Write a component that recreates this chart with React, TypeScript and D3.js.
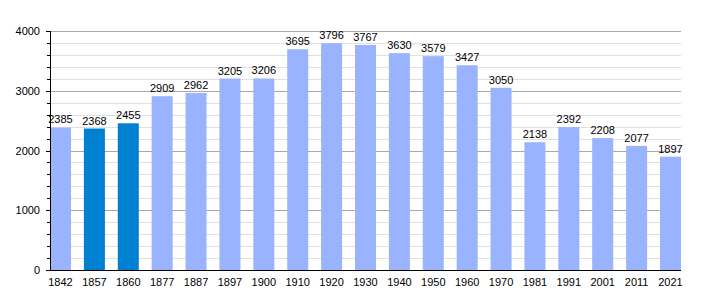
import React from "react";
import * as d3 from "d3";

const years = ["1842","1857","1860","1877","1887","1897","1900","1910","1920","1930","1940","1950","1960","1970","1981","1991","2001","2011","2021"];
const population = [2385,2368,2455,2909,2962,3205,3206,3695,3796,3767,3630,3579,3427,3050,2138,2392,2208,2077,1897];
const highlighted = ["1857","1860"];
const yTicks = [0,1000,2000,3000,4000];

const W = 710, H = 300;
const left = 50, right = 681, top = 31, bottom = 270;

export default function App() {
  const x = d3.scaleBand<string>().domain(years).range([left, right]).paddingInner(0.38).paddingOuter(0).align(0);
  const y = d3.scaleLinear().domain([0, 4000]).range([bottom, top]);
  const minor = d3.range(200, 4001, 200).filter(v => v % 1000 !== 0);
  const font = "'Liberation Sans', Arial, sans-serif";
  return (
    <svg width={W} height={H} style={{ position: "absolute", left: 0, top: 0 }} fontFamily={font}>
      <rect width={W} height={H} fill="#fff" />
      {minor.map(v => (
        <line key={"m" + v} x1={left} x2={right} y1={Math.round(y(v)) + 0.5} y2={Math.round(y(v)) + 0.5} stroke="#e0e0e0" />
      ))}
      {yTicks.filter(v => v > 0).map(v => (
        <line key={"g" + v} x1={left} x2={right} y1={Math.round(y(v)) + 0.5} y2={Math.round(y(v)) + 0.5} stroke="#a8a8a8" />
      ))}
      {years.map((yr, i) => (
        <rect key={yr} x={x(yr)} y={y(population[i])} width={x.bandwidth()} height={bottom - y(population[i])}
          fill={highlighted.includes(yr) ? "#0080d0" : "#99b3ff"} />
      ))}
      {years.map((yr, i) => (
        <text key={"v" + yr} x={(x(yr) as number) + x.bandwidth() / 2} y={y(population[i]) - 4} textAnchor="middle" fontSize={11} fill="#000">{population[i]}</text>
      ))}
      {d3.range(0, 4001, 200).map(v => (
        <line key={"t" + v} x1={left - (v % 1000 === 0 ? 4 : 3)} x2={left} y1={Math.round(y(v)) + 0.5} y2={Math.round(y(v)) + 0.5} stroke="#000" />
      ))}
      <line x1={left + 0.5} x2={left + 0.5} y1={top} y2={bottom} stroke="#000" />
      <line x1={left} x2={right} y1={bottom + 0.5} y2={bottom + 0.5} stroke="#000" />
      {yTicks.map(v => (
        <text key={"yl" + v} x={40} y={y(v) + 4} textAnchor="end" fontSize={11} fill="#000">{v}</text>
      ))}
      {years.map(yr => (
        <text key={"x" + yr} x={(x(yr) as number) + x.bandwidth() / 2} y={286} textAnchor="middle" fontSize={11} fill="#000">{yr}</text>
      ))}
    </svg>
  );
}
